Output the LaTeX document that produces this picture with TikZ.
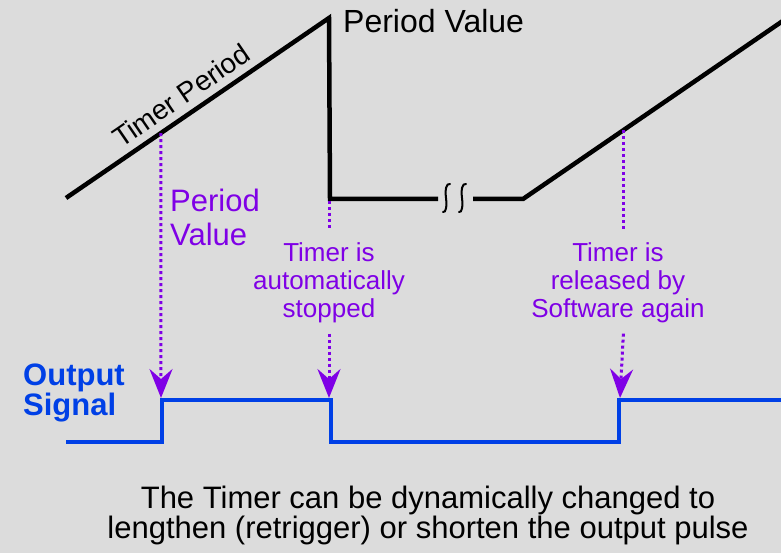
\documentclass[tikz,border=0pt]{standalone}
\usepackage{fontspec}
\setmainfont{Liberation Sans}
\usetikzlibrary{arrows.meta}
\definecolor{bgGray}{HTML}{DCDCDC}
\definecolor{notePurple}{HTML}{7F00E6}
\definecolor{signalBlue}{HTML}{0040E6}

\begin{document}
\begin{tikzpicture}[
    x=1pt, y=-1pt,
    ramp/.style={line width=4.5pt, draw=black},
    signal/.style={line width=4.5pt, draw=signalBlue},
    squiggle/.style={line width=2pt, draw=black, line cap=round},
    guide/.style={line width=3pt, draw=notePurple, dash pattern=on 3pt off 3pt},
    pointer/.style={guide, -{Stealth[length=29pt, width=23pt, inset=10pt]}},
    note/.style={text=notePurple, font=\fontsize{26}{28}\selectfont,
        align=center, anchor=base, inner sep=11pt},
    bigtext/.style={font=\fontsize{31}{33}\selectfont, inner sep=0pt}
]
  \useasboundingbox[fill=bgGray] (0,0) rectangle (781,553);

  % Timer counter
  \coordinate (start) at (66,198);
  \coordinate (peak) at (329,18);
  \coordinate (drop) at (330,199);
  \coordinate (breakL) at (438,199);
  \coordinate (breakR) at (473,199);
  \coordinate (restart) at (523,199);
  \coordinate (rise) at (790,16);

  \draw[ramp] (start) -- node[sloped, above, pos=0.48, inner sep=7pt,
      font=\fontsize{28}{30}\selectfont] (periodText) {Timer Period}
      coordinate[pos=0.361] (tapA) (peak) -- (drop) -- (breakL);
  \draw[ramp] (breakR) -- (restart) -- coordinate[pos=0.376] (tapC) (rise);

  % Break marks
  \draw[squiggle] (450,184) .. controls (446,183) and (445,190) .. (446,198)
      .. controls (447,206) and (446,213) .. (443,212);
  \draw[squiggle] (466,184) .. controls (462,183) and (461,190) .. (462,198)
      .. controls (463,206) and (462,213) .. (459,212);

  % Labels
  \node[bigtext, anchor=base west, font=\fontsize{32}{33}\selectfont] (periodValue)
      at (343,33) {Period Value};
  \node[bigtext, anchor=base west, align=left, text=notePurple] (periodNote)
      at (170,245) {Period\\Value};
  \node[note] (stopNote) at (329,317) {Timer is\\automatically\\stopped};
  \node[note] (releaseNote) at (618,317) {Timer is\\released by\\Software again};
  \node[bigtext, anchor=base west, align=left, text=signalBlue,
      font=\fontsize{31}{30}\selectfont\bfseries] (outLabel) at (23,415) {Output\\Signal};
  \node[bigtext, anchor=base, align=center, font=\fontsize{31}{30}\selectfont]
      (caption) at (428,538) {The Timer can be dynamically changed to\\lengthen (retrigger) or shorten the output pulse};

  % Output signal
  \coordinate (lowA) at (66,442);
  \coordinate (upA) at (162,442);
  \coordinate (topA) at (162,400);
  \coordinate (topB) at (331,400);
  \coordinate (downB) at (331,442);
  \coordinate (upC) at (619,442);
  \coordinate (topC) at (619,400);
  \coordinate (outEnd) at (790,400);
  \draw[signal] (lowA) -- (upA) -- (topA) -- (topB) -- (downB) -- (upC) -- (topC) -- (outEnd);

  % Dotted pointers
  \coordinate (tipA) at (161,398);
  \coordinate (tapB) at (329,201);
  \coordinate (tipB) at (329,398);
  \coordinate (tipC) at (620,398);
  \draw[pointer] (tapA) -- (tipA);
  \draw[guide] (tapB) -- (stopNote.north);
  \draw[pointer] (stopNote.south) -- (tipB);
  \draw[guide] (tapC) -- (tapC |- releaseNote.north);
  \draw[pointer] (tapC |- releaseNote.south) -- (tipC);
\end{tikzpicture}
\end{document}
